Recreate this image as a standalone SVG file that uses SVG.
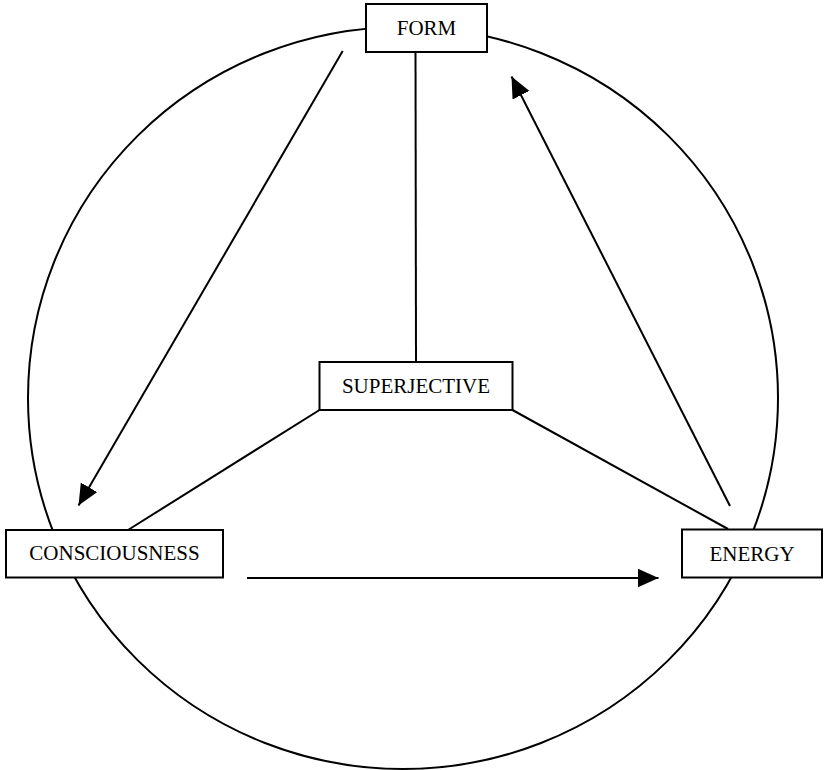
<svg xmlns="http://www.w3.org/2000/svg" width="824" height="770" viewBox="0 0 824 770">
<style>
.box{fill:#fff;stroke:#000;stroke-width:2}
.lbl{font-family:"Liberation Serif","Times New Roman",serif;font-size:21px;fill:#000;text-anchor:middle}
.ln{stroke:#000;stroke-width:2;fill:none}
</style>
<defs>
<marker id="ah" markerUnits="userSpaceOnUse" markerWidth="22" markerHeight="20" refX="21" refY="9.5" orient="auto">
<path d="M0,0 L21,9.5 L0,19 Z" fill="#000"/>
</marker>
</defs>
<rect width="824" height="770" fill="#fff"/>
<ellipse id="cycle" cx="403" cy="398" rx="375" ry="371" class="ln"/>
<g id="connectors">
<line class="ln" x1="342.7" y1="51" x2="78.5" y2="505.5" marker-end="url(#ah)"/>
<line class="ln" x1="730" y1="506" x2="511.5" y2="76.5" marker-end="url(#ah)"/>
<line class="ln" x1="247" y1="578" x2="658.5" y2="578" marker-end="url(#ah)"/>
<line class="ln" x1="415.5" y1="52" x2="416" y2="362"/>
<line class="ln" x1="319.5" y1="410" x2="128" y2="530"/>
<line class="ln" x1="512.5" y1="410" x2="728" y2="529"/>
</g>
<g id="form">
<rect class="box" x="366" y="4" width="121" height="48"/>
<text class="lbl" x="426.5" y="35">FORM</text>
</g>
<g id="superjective">
<rect class="box" x="319.5" y="362" width="193" height="48"/>
<text class="lbl" x="416" y="392.5">SUPERJECTIVE</text>
</g>
<g id="consciousness">
<rect class="box" x="6" y="530" width="217" height="47.5"/>
<text class="lbl" x="114.5" y="560">CONSCIOUSNESS</text>
</g>
<g id="energy">
<rect class="box" x="682" y="529.5" width="140" height="48"/>
<text class="lbl" x="752" y="560.5">ENERGY</text>
</g>
</svg>
